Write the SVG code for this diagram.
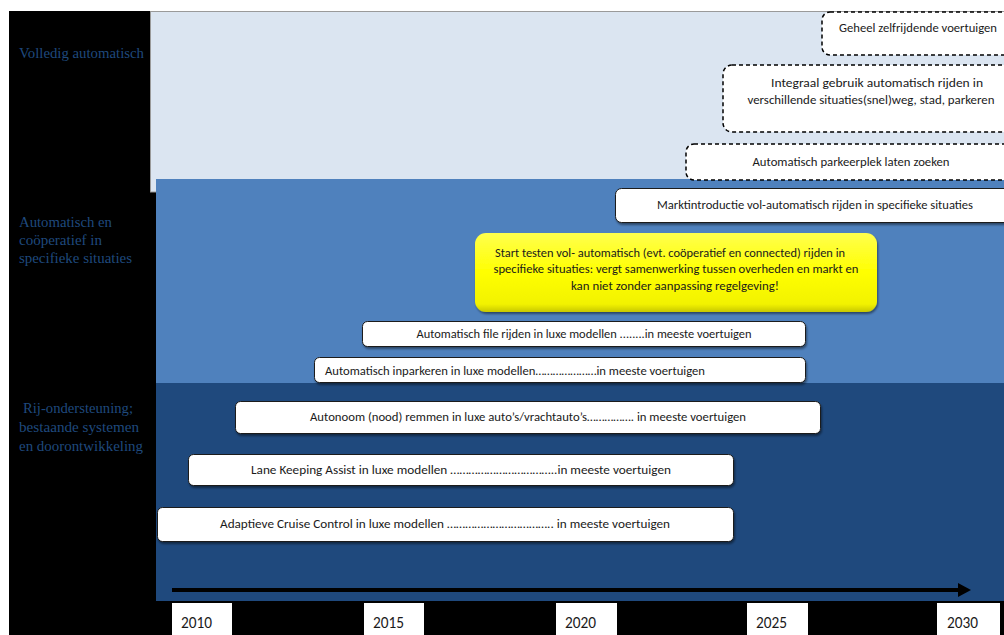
<svg xmlns="http://www.w3.org/2000/svg" width="1004" height="635" viewBox="0 0 1004 635">
  <style>
    .lbl { font-family: "Liberation Serif", "DejaVu Serif", serif; font-size: 15px; fill: #1f497d; }
    .bt { font-family: Carlito, "Liberation Sans", Arial, sans-serif; font-size: 12px; fill: #1a1a1a; text-anchor: middle; }
    .yt { font-family: Carlito, "Liberation Sans", Arial, sans-serif; font-size: 16px; fill: #1a1a1a; }
    .solid { fill: #ffffff; stroke: #1a1a1a; stroke-width: 1; }
    .dash { fill: #ffffff; stroke: #000000; stroke-width: 1.5; stroke-dasharray: 4 3; }
    .year { fill: #ffffff; stroke: none; }
  </style>
  <defs>
    <filter id="sh" x="-5%" y="-20%" width="110%" height="150%">
      <feDropShadow dx="1" dy="2" stdDeviation="1.2" flood-color="#000" flood-opacity="0.45"/>
    </filter>
    <linearGradient id="yel" x1="0" y1="0" x2="0" y2="1">
      <stop offset="0" stop-color="#ffff4d"/>
      <stop offset="0.5" stop-color="#ffff00"/>
      <stop offset="0.9" stop-color="#f2f200"/>
      <stop offset="1" stop-color="#c8c800"/>
    </linearGradient>
  </defs>

  <!-- backgrounds -->
  <rect x="0" y="0" width="1004" height="635" fill="#ffffff"/>
  <rect x="9" y="11" width="995" height="624" fill="#000000"/>
  <rect x="150.5" y="11.5" width="860" height="180.5" fill="#dbe5f1" stroke="#9a9a9a" stroke-width="1"/>
  <rect x="156" y="179" width="848" height="204" fill="#4f81bd"/>
  <rect x="156" y="383" width="848" height="218" fill="#1f497d"/>

  <!-- left labels -->
  <g id="label-volledig">
    <text class="lbl" x="19" y="58" textLength="125" lengthAdjust="spacingAndGlyphs">Volledig automatisch</text>
  </g>
  <g id="label-cooperatief">
    <text class="lbl" x="19" y="227" textLength="93" lengthAdjust="spacingAndGlyphs">Automatisch en</text>
    <text class="lbl" x="19" y="245" textLength="83" lengthAdjust="spacingAndGlyphs">coöperatief in</text>
    <text class="lbl" x="19" y="263" textLength="113" lengthAdjust="spacingAndGlyphs">specifieke situaties</text>
  </g>
  <g id="label-rijondersteuning">
    <text class="lbl" x="23" y="413" textLength="110" lengthAdjust="spacingAndGlyphs">Rij-ondersteuning;</text>
    <text class="lbl" x="19" y="432" textLength="120" lengthAdjust="spacingAndGlyphs">bestaande systemen</text>
    <text class="lbl" x="19" y="451" textLength="124" lengthAdjust="spacingAndGlyphs">en doorontwikkeling</text>
  </g>

  <!-- dashed future boxes -->
  <g id="node-geheel">
    <rect class="dash" x="822" y="12" width="200" height="43" rx="8"/>
    <text class="bt" x="918" y="32" textLength="158" lengthAdjust="spacingAndGlyphs">Geheel zelfrijdende voertuigen</text>
  </g>
  <g id="node-integraal">
    <rect class="dash" x="723" y="65" width="300" height="67" rx="9"/>
    <text class="bt" x="877" y="87" textLength="212" lengthAdjust="spacingAndGlyphs">Integraal gebruik automatisch rijden in</text>
    <text class="bt" x="871" y="104" textLength="247" lengthAdjust="spacingAndGlyphs">verschillende situaties(snel)weg, stad, parkeren</text>
  </g>
  <g id="node-parkeerplek">
    <rect class="dash" x="686" y="144" width="340" height="36" rx="8"/>
    <text class="bt" x="851" y="166" textLength="197" lengthAdjust="spacingAndGlyphs">Automatisch parkeerplek laten zoeken</text>
  </g>

  <!-- solid boxes -->
  <g id="node-marktintroductie">
    <rect class="solid" x="615.5" y="188.5" width="400" height="34" rx="6" filter="url(#sh)"/>
    <text class="bt" x="815" y="209" textLength="316" lengthAdjust="spacingAndGlyphs">Marktintroductie vol-automatisch rijden in specifieke situaties</text>
  </g>
  <g id="node-start-testen">
    <rect x="475" y="233" width="402" height="79" rx="11" fill="url(#yel)" filter="url(#sh)"/>
    <text class="bt" x="670" y="257" textLength="350" lengthAdjust="spacingAndGlyphs">Start  testen vol- automatisch (evt. coöperatief en connected) rijden in</text>
    <text class="bt" x="676" y="273" textLength="365" lengthAdjust="spacingAndGlyphs">specifieke situaties: vergt samenwerking tussen overheden en markt en</text>
    <text class="bt" x="675" y="290" textLength="208" lengthAdjust="spacingAndGlyphs">kan niet  zonder aanpassing regelgeving!</text>
  </g>
  <g id="node-file-rijden">
    <rect class="solid" x="362.5" y="321.5" width="443" height="25" rx="5" filter="url(#sh)"/>
    <text class="bt" x="584" y="338" textLength="335" lengthAdjust="spacingAndGlyphs">Automatisch file rijden in luxe modellen ........in meeste voertuigen</text>
  </g>
  <g id="node-inparkeren">
    <rect class="solid" x="314.5" y="357.5" width="491" height="25" rx="5" filter="url(#sh)"/>
    <text class="bt" x="515" y="375" textLength="380" lengthAdjust="spacingAndGlyphs">Automatisch inparkeren in luxe modellen…………………in meeste voertuigen</text>
  </g>
  <g id="node-autonoom">
    <rect class="solid" x="235.5" y="401.5" width="585" height="32" rx="5" filter="url(#sh)"/>
    <text class="bt" x="528" y="421" textLength="436" lengthAdjust="spacingAndGlyphs">Autonoom (nood) remmen in luxe  auto’s/vrachtauto’s……………. in meeste voertuigen</text>
  </g>
  <g id="node-lane-keeping">
    <rect class="solid" x="188.5" y="454.5" width="545" height="31" rx="5" filter="url(#sh)"/>
    <text class="bt" x="461" y="474" textLength="420" lengthAdjust="spacingAndGlyphs">Lane Keeping Assist  in luxe modellen ……………………………..in meeste voertuigen</text>
  </g>
  <g id="node-adaptieve">
    <rect class="solid" x="157.5" y="507.5" width="576" height="34" rx="5" filter="url(#sh)"/>
    <text class="bt" x="445" y="528" textLength="450" lengthAdjust="spacingAndGlyphs">Adaptieve Cruise Control in luxe modellen …………………………….. in meeste voertuigen</text>
  </g>

  <!-- timeline -->
  <g id="connectors">
    <line x1="172" y1="590" x2="959" y2="590" stroke="#000000" stroke-width="4"/>
    <polygon points="958,583 971,590 958,597" fill="#000000"/>
  </g>
  <g id="axis-years">
    <rect class="year" x="172" y="603" width="60" height="32"/>
    <text class="yt" x="181" y="628" textLength="31" lengthAdjust="spacingAndGlyphs">2010</text>
    <rect class="year" x="364" y="603" width="60" height="32"/>
    <text class="yt" x="373" y="628" textLength="31" lengthAdjust="spacingAndGlyphs">2015</text>
    <rect class="year" x="556" y="603" width="61" height="32"/>
    <text class="yt" x="565" y="628" textLength="31" lengthAdjust="spacingAndGlyphs">2020</text>
    <rect class="year" x="747" y="603" width="61" height="32"/>
    <text class="yt" x="756" y="628" textLength="31" lengthAdjust="spacingAndGlyphs">2025</text>
    <rect class="year" x="937" y="603" width="63" height="32"/>
    <text class="yt" x="947" y="628" textLength="31" lengthAdjust="spacingAndGlyphs">2030</text>
  </g>
</svg>
